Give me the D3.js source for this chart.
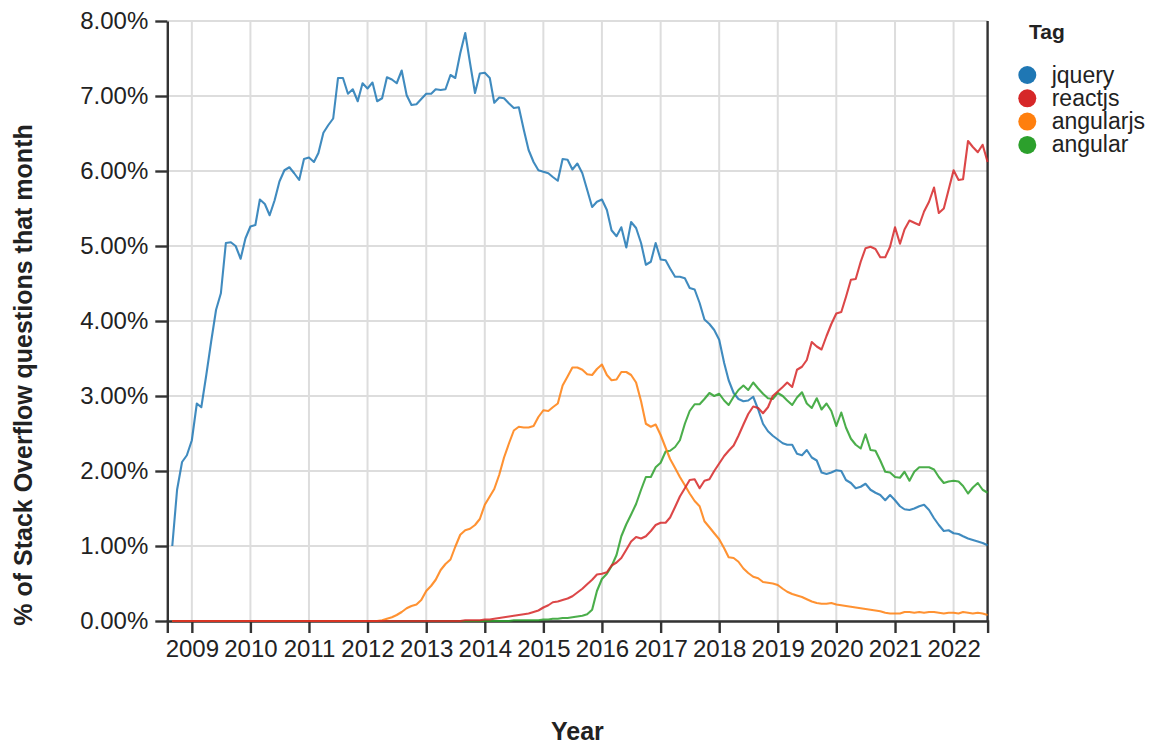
<!DOCTYPE html>
<html>
<head>
<meta charset="utf-8">
<script src="https://d3js.org/d3.v7.min.js"></script>
<style>
  body { margin: 0; background: #fff; }
  svg { display: block; font-family: "Liberation Sans", Arial, sans-serif; }
  .grid line { stroke: #ddd; stroke-width: 2; }
  .axis path, .axis line, .edge { stroke: #333; stroke-width: 2.4; fill: none; }
  .axis text { font-size: 24px; fill: #222; }
  .line { fill: none; stroke-width: 2.1; stroke-linejoin: round; stroke-opacity: 0.85; }
  .title { font-size: 25px; font-weight: bold; fill: #222; }
  .legend-title { font-size: 21px; font-weight: bold; fill: #222; }
  .legend-label { font-size: 23px; fill: #222; }
</style>
</head>
<body>
<div id="chart"></div>
<script>
// monthly values, Sep 2008 .. Aug 2022, % of questions
var tags = ["jquery", "reactjs", "angularjs", "angular"];
var colors = ["#1f77b4", "#d62728", "#ff7f0e", "#2ca02c"];

var jquery = [
  1.00, 1.75, 2.12, 2.21, 2.41, 2.90, 2.85, 3.28, 3.72, 4.15, 4.37, 5.04,
  5.05, 5.00, 4.83, 5.10, 5.26, 5.28, 5.62, 5.56, 5.41, 5.61, 5.86, 6.01,
  6.05, 5.97, 5.88, 6.16, 6.18, 6.12, 6.24, 6.51, 6.61, 6.70, 7.24, 7.24,
  7.03, 7.09, 6.93, 7.17, 7.10, 7.18, 6.93, 6.97, 7.25, 7.22, 7.17, 7.34,
  7.01, 6.88, 6.89, 6.96, 7.03, 7.03, 7.09, 7.08, 7.09, 7.28, 7.24, 7.57,
  7.84, 7.44, 7.04, 7.30, 7.31, 7.24, 6.91, 6.98, 6.97, 6.90, 6.84, 6.85,
  6.55, 6.28, 6.12, 6.01, 5.99, 5.97, 5.92, 5.87, 6.16, 6.15, 6.02, 6.10,
  5.97, 5.75, 5.52, 5.59, 5.62, 5.48, 5.21, 5.13, 5.25, 4.98, 5.32, 5.24,
  5.04, 4.75, 4.79, 5.04, 4.82, 4.81, 4.70, 4.59, 4.59, 4.57, 4.44, 4.42,
  4.24, 4.02, 3.96, 3.88, 3.75, 3.44, 3.21, 3.04, 2.96, 2.93, 2.94, 2.99,
  2.82, 2.63, 2.53, 2.47, 2.42, 2.37, 2.35, 2.35, 2.23, 2.21, 2.28, 2.18,
  2.14, 1.98, 1.96, 1.98, 2.01, 2.00, 1.88, 1.84, 1.77, 1.79, 1.83, 1.75,
  1.71, 1.68, 1.61, 1.68, 1.61, 1.53, 1.49, 1.48, 1.50, 1.53, 1.55, 1.48,
  1.37, 1.28, 1.20, 1.21, 1.17, 1.16, 1.13, 1.10, 1.08, 1.06, 1.04, 1.01
];

var reactjs = [
  0, 0, 0, 0, 0, 0, 0, 0, 0, 0, 0, 0,
  0, 0, 0, 0, 0, 0, 0, 0, 0, 0, 0, 0,
  0, 0, 0, 0, 0, 0, 0, 0, 0, 0, 0, 0,
  0, 0, 0, 0, 0, 0, 0, 0, 0, 0, 0, 0,
  0, 0, 0, 0, 0, 0, 0, 0, 0, 0, 0, 0,
  0.01, 0.01, 0.01, 0.01, 0.02, 0.02, 0.03, 0.04, 0.05, 0.06, 0.07, 0.08,
  0.09, 0.10, 0.12, 0.14, 0.18, 0.21, 0.25, 0.26, 0.28, 0.30, 0.33, 0.38,
  0.43, 0.49, 0.55, 0.62, 0.63, 0.65, 0.74, 0.78, 0.84, 0.95, 1.06, 1.12,
  1.10, 1.13, 1.20, 1.28, 1.31, 1.31, 1.38, 1.52, 1.66, 1.77, 1.88, 1.89,
  1.77, 1.87, 1.89, 2.00, 2.10, 2.20, 2.27, 2.34, 2.47, 2.62, 2.76, 2.86,
  2.84, 2.77, 2.85, 3.00, 3.06, 3.12, 3.18, 3.12, 3.35, 3.39, 3.48, 3.72,
  3.66, 3.62, 3.80, 3.96, 4.10, 4.12, 4.32, 4.55, 4.56, 4.79, 4.97, 4.99,
  4.96, 4.85, 4.85, 4.99, 5.25, 5.03, 5.22, 5.34, 5.31, 5.28, 5.46, 5.59,
  5.78, 5.44, 5.50, 5.75, 6.01, 5.88, 5.89, 6.40, 6.32, 6.25, 6.35, 6.12
];

var angularjs = [
  0, 0, 0, 0, 0, 0, 0, 0, 0, 0, 0, 0,
  0, 0, 0, 0, 0, 0, 0, 0, 0, 0, 0, 0,
  0, 0, 0, 0, 0, 0, 0, 0, 0, 0, 0, 0,
  0, 0, 0, 0, 0, 0, 0, 0.01, 0.03, 0.05, 0.08, 0.12,
  0.17, 0.20, 0.22, 0.28, 0.40, 0.47, 0.55, 0.68, 0.76, 0.82, 0.99, 1.15,
  1.21, 1.23, 1.28, 1.36, 1.55, 1.66, 1.76, 1.95, 2.18, 2.37, 2.54, 2.59,
  2.58, 2.58, 2.60, 2.72, 2.81, 2.80, 2.85, 2.90, 3.14, 3.26, 3.38, 3.38,
  3.35, 3.29, 3.28, 3.36, 3.42, 3.28, 3.21, 3.22, 3.32, 3.32, 3.28, 3.18,
  2.93, 2.63, 2.59, 2.62, 2.48, 2.31, 2.16, 2.04, 1.92, 1.81, 1.70, 1.60,
  1.53, 1.33, 1.25, 1.17, 1.09, 0.97, 0.85, 0.84, 0.79, 0.70, 0.64, 0.59,
  0.57, 0.52, 0.51, 0.50, 0.48, 0.43, 0.39, 0.36, 0.34, 0.32, 0.29, 0.26,
  0.24, 0.23, 0.23, 0.24, 0.22, 0.21, 0.20, 0.19, 0.18, 0.17, 0.16, 0.15,
  0.14, 0.13, 0.11, 0.10, 0.10, 0.10, 0.12, 0.12, 0.11, 0.12, 0.11, 0.12,
  0.12, 0.11, 0.10, 0.11, 0.11, 0.10, 0.12, 0.11, 0.10, 0.11, 0.10, 0.08
];

var angular = [
  0, 0, 0, 0, 0, 0, 0, 0, 0, 0, 0, 0,
  0, 0, 0, 0, 0, 0, 0, 0, 0, 0, 0, 0,
  0, 0, 0, 0, 0, 0, 0, 0, 0, 0, 0, 0,
  0, 0, 0, 0, 0, 0, 0, 0, 0, 0, 0, 0,
  0, 0, 0, 0, 0, 0, 0, 0, 0, 0, 0, 0,
  0, 0, 0, 0, 0, 0, 0, 0, 0, 0, 0.01, 0.01,
  0.01, 0.01, 0.01, 0.01, 0.02, 0.02, 0.03, 0.03, 0.04, 0.04, 0.05, 0.06,
  0.07, 0.09, 0.15, 0.40, 0.56, 0.63, 0.73, 0.88, 1.13, 1.29, 1.42, 1.56,
  1.75, 1.92, 1.92, 2.05, 2.11, 2.26, 2.27, 2.32, 2.41, 2.63, 2.80, 2.89,
  2.89, 2.96, 3.04, 3.00, 3.03, 2.94, 2.88, 2.99, 3.08, 3.14, 3.08, 3.18,
  3.10, 3.03, 2.97, 2.96, 3.04, 3.00, 2.94, 2.88, 2.98, 3.05, 2.90, 2.84,
  2.97, 2.82, 2.90, 2.80, 2.60, 2.78, 2.58, 2.43, 2.35, 2.30, 2.49, 2.28,
  2.27, 2.14, 1.99, 1.98, 1.92, 1.91, 1.99, 1.87, 1.99, 2.05, 2.05, 2.05,
  2.02, 1.92, 1.84, 1.86, 1.87, 1.86, 1.80, 1.70, 1.78, 1.84, 1.75, 1.71
];

var yTicks = [0, 1, 2, 3, 4, 5, 6, 7, 8];
var xTickYears = [2009, 2010, 2011, 2012, 2013, 2014, 2015, 2016, 2017, 2018, 2019, 2020, 2021, 2022];

var months = d3.timeMonth.range(new Date(2008, 8, 1), new Date(2022, 8, 1));
var seriesValues = [jquery, reactjs, angularjs, angular];

var margin = {top: 21, right: 164.4, bottom: 125, left: 167.3},
    totalW = 1152, totalH = 746,
    width = totalW - margin.left - margin.right,
    height = totalH - margin.top - margin.bottom;

var svg = d3.select("#chart").append("svg")
    .attr("width", totalW)
    .attr("height", totalH);

var g = svg.append("g")
    .attr("transform", "translate(" + margin.left + "," + margin.top + ")");

var x = d3.scaleTime()
    .domain([new Date(2008, 7, 1), new Date(2022, 7, 1)])
    .range([0, width]);

var y = d3.scaleLinear()
    .domain([0, 8])
    .range([height, 0]);

var xTicks = xTickYears.map(function(yr) { return new Date(yr, 0, 1); });

// grid
var grid = g.append("g").attr("class", "grid");
grid.selectAll(".h").data(yTicks).enter().append("line")
    .attr("x1", 0).attr("x2", width)
    .attr("y1", function(d) { return y(d); })
    .attr("y2", function(d) { return y(d); });
grid.selectAll(".v").data(xTicks).enter().append("line")
    .attr("y1", 0).attr("y2", height)
    .attr("x1", function(d) { return x(d); })
    .attr("x2", function(d) { return x(d); });

// axes
g.append("g")
    .attr("class", "x axis")
    .attr("transform", "translate(0," + height + ")")
    .call(d3.axisBottom(x)
        .tickValues(xTicks)
        .tickFormat(d3.timeFormat("%Y"))
        .tickSize(12)
        .tickSizeOuter(12)
        .tickPadding(6.5));

g.append("g")
    .attr("class", "y axis")
    .call(d3.axisLeft(y)
        .tickValues(yTicks)
        .tickFormat(function(d) { return d3.format(".2f")(d) + "%"; })
        .tickSize(12)
        .tickSizeOuter(0)
        .tickPadding(7));

g.append("line")
    .attr("class", "edge")
    .attr("x1", width).attr("x2", width)
    .attr("y1", 0).attr("y2", height);

// lines
var line = d3.line()
    .x(function(d) { return x(d.date); })
    .y(function(d) { return y(d.value); });

var drawOrder = [0, 3, 2, 1];
drawOrder.forEach(function(k) {
    var data = seriesValues[k].map(function(v, i) { return {date: months[i], value: v}; });
    g.append("path")
        .datum(data)
        .attr("class", "line")
        .attr("stroke", colors[k])
        .attr("d", line);
});

// axis titles
svg.append("text")
    .attr("class", "title")
    .attr("text-anchor", "middle")
    .attr("x", margin.left + width / 2)
    .attr("y", 740)
    .text("Year");

svg.append("text")
    .attr("class", "title")
    .attr("text-anchor", "middle")
    .attr("transform", "translate(32,375) rotate(-90)")
    .text("% of Stack Overflow questions that month");

// legend
var legend = svg.append("g").attr("transform", "translate(1018,0)");
legend.append("text")
    .attr("class", "legend-title")
    .attr("x", 11)
    .attr("y", 38.5)
    .text("Tag");

var entries = legend.selectAll(".entry").data(tags).enter().append("g")
    .attr("transform", function(d, i) { return "translate(0," + (75 + i * 23.3) + ")"; });
entries.append("circle")
    .attr("cx", 9.3)
    .attr("cy", 0)
    .attr("r", 9)
    .attr("fill", function(d, i) { return colors[i]; });
entries.append("text")
    .attr("class", "legend-label")
    .attr("x", 33.7)
    .attr("y", 7.5)
    .text(function(d) { return d; });
</script>
</body>
</html>
